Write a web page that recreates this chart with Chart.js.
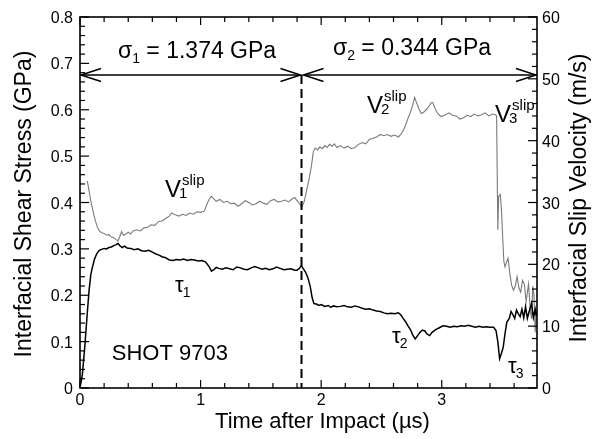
<!DOCTYPE html>
<html>
<head>
<meta charset="utf-8">
<script src="https://cdn.jsdelivr.net/npm/chart.js@4/dist/chart.umd.min.js"></script>
<style>
  html, body { margin: 0; padding: 0; background: #fff; }
  #c { display: block; }
</style>
</head>
<body>
<canvas id="c" width="592" height="439"></canvas>
<script>
// Tick labels
const timeTicks = [0, 1, 2, 3];
const stressTicks = [0, 0.1, 0.2, 0.3, 0.4, 0.5, 0.6, 0.7, 0.8];
const velocityTicks = [0, 10, 20, 30, 40, 50, 60];

// Interfacial shear stress tau (GPa) vs time after impact (µs)
const tauTime = [
  0.00, 0.02, 0.04, 0.06, 0.075, 0.09, 0.10, 0.12, 0.14, 0.16, 0.18, 0.20, 0.22, 0.24, 0.26, 0.28,
  0.30, 0.315, 0.33, 0.35, 0.37, 0.39, 0.42, 0.45, 0.48, 0.51, 0.54, 0.57, 0.60, 0.63, 0.66, 0.68,
  0.71, 0.74, 0.77, 0.80, 0.83, 0.86, 0.89, 0.92, 0.95, 0.98, 1.01, 1.04, 1.07, 1.09, 1.11, 1.13,
  1.15, 1.18, 1.21, 1.24, 1.27, 1.30, 1.33, 1.36, 1.39, 1.42, 1.45, 1.48, 1.51, 1.54, 1.57, 1.60,
  1.63, 1.66, 1.69, 1.72, 1.75, 1.78, 1.80, 1.82, 1.835, 1.85, 1.87, 1.89, 1.91, 1.925, 1.94, 1.96,
  1.98, 2.00, 2.03, 2.06, 2.08, 2.10, 2.13, 2.16, 2.19, 2.22, 2.25, 2.28, 2.31, 2.34, 2.37, 2.40,
  2.43, 2.46, 2.49, 2.52, 2.55, 2.58, 2.61, 2.64, 2.66, 2.68, 2.70, 2.72, 2.74, 2.76, 2.78, 2.80,
  2.82, 2.84, 2.86, 2.88, 2.90, 2.92, 2.95, 2.98, 3.01, 3.04, 3.07, 3.10, 3.13, 3.16, 3.19, 3.22,
  3.25, 3.28, 3.31, 3.34, 3.37, 3.40, 3.43, 3.45, 3.465, 3.48, 3.495, 3.51, 3.525, 3.54, 3.56, 3.575,
  3.59, 3.605, 3.62, 3.635, 3.65, 3.665, 3.68, 3.695, 3.71, 3.725, 3.745, 3.76, 3.775, 3.785
];
const tauStress = [
  0.000, 0.030, 0.090, 0.160, 0.210, 0.245, 0.257, 0.278, 0.290, 0.297, 0.299, 0.301, 0.300, 0.303, 0.304, 0.307,
  0.309, 0.312, 0.307, 0.303, 0.306, 0.302, 0.301, 0.298, 0.300, 0.296, 0.295, 0.297, 0.293, 0.289, 0.286, 0.283,
  0.281, 0.276, 0.275, 0.277, 0.276, 0.278, 0.275, 0.277, 0.276, 0.274, 0.275, 0.272, 0.262, 0.252, 0.255, 0.260,
  0.258, 0.256, 0.259, 0.257, 0.255, 0.261, 0.259, 0.256, 0.255, 0.259, 0.262, 0.259, 0.256, 0.258, 0.255, 0.257,
  0.261, 0.258, 0.255, 0.256, 0.257, 0.254, 0.254, 0.258, 0.264, 0.258, 0.250, 0.238, 0.218, 0.195, 0.182, 0.181,
  0.178, 0.180, 0.176, 0.178, 0.174, 0.177, 0.175, 0.176, 0.178, 0.175, 0.174, 0.177, 0.175, 0.172, 0.170, 0.171,
  0.168, 0.166, 0.165, 0.162, 0.160, 0.161, 0.160, 0.162, 0.158, 0.150, 0.143, 0.134, 0.126, 0.114, 0.106, 0.113,
  0.120, 0.125, 0.123, 0.116, 0.113, 0.120, 0.126, 0.130, 0.134, 0.133, 0.131, 0.133, 0.132, 0.134, 0.133, 0.135,
  0.133, 0.131, 0.133, 0.131, 0.132, 0.131, 0.131, 0.124, 0.100, 0.063, 0.075, 0.088, 0.118, 0.142, 0.150, 0.165,
  0.158, 0.150, 0.168, 0.160, 0.154, 0.170, 0.151, 0.175, 0.150, 0.165, 0.183, 0.152, 0.170, 0.155
];

// Interfacial slip velocity (m/s) vs time after impact (µs)
const slipTime = [
  0.06, 0.07, 0.08, 0.09, 0.10, 0.115, 0.13, 0.145, 0.16, 0.18, 0.20, 0.22, 0.24, 0.26, 0.28, 0.30,
  0.315, 0.33, 0.345, 0.36, 0.38, 0.40, 0.42, 0.44, 0.47, 0.50, 0.53, 0.56, 0.59, 0.62, 0.65, 0.68,
  0.71, 0.74, 0.76, 0.79, 0.82, 0.85, 0.88, 0.91, 0.94, 0.97, 1.00, 1.03, 1.05, 1.07, 1.09, 1.11,
  1.13, 1.16, 1.19, 1.22, 1.25, 1.28, 1.31, 1.34, 1.37, 1.40, 1.43, 1.46, 1.49, 1.52, 1.55, 1.58,
  1.61, 1.64, 1.67, 1.70, 1.73, 1.76, 1.78, 1.80, 1.82, 1.84, 1.86, 1.88, 1.90, 1.92, 1.935, 1.95,
  1.97, 1.99, 2.01, 2.03, 2.05, 2.07, 2.09, 2.11, 2.13, 2.16, 2.19, 2.22, 2.25, 2.28, 2.31, 2.34,
  2.37, 2.40, 2.43, 2.46, 2.49, 2.52, 2.55, 2.58, 2.61, 2.64, 2.66, 2.68, 2.70, 2.72, 2.74, 2.76,
  2.775, 2.79, 2.81, 2.83, 2.85, 2.87, 2.89, 2.91, 2.925, 2.94, 2.96, 2.98, 3.00, 3.03, 3.06, 3.09,
  3.12, 3.15, 3.18, 3.21, 3.24, 3.27, 3.30, 3.33, 3.36, 3.39, 3.42, 3.445, 3.455, 3.465, 3.472, 3.485,
  3.495, 3.505, 3.515, 3.525, 3.54, 3.55, 3.565, 3.58, 3.595, 3.61, 3.625, 3.64, 3.655, 3.67, 3.685, 3.70,
  3.71, 3.72, 3.735, 3.745, 3.755, 3.765, 3.775, 3.785
];
const slipVelocity = [
  33.5, 32.5, 31.3, 30.2, 29.3, 28.0, 26.9, 26.0, 25.4, 25.1, 25.0, 24.7, 24.8, 24.4, 24.3, 24.0,
  23.8, 24.5, 25.3, 24.7, 24.9, 25.2, 24.9, 25.4, 25.6, 25.4, 25.9, 26.0, 26.4, 26.3, 26.9, 27.0,
  27.4, 27.8, 28.3, 28.0, 27.8, 28.1, 27.9, 28.3, 28.1, 28.5, 28.4, 28.6, 29.6, 30.5, 31.0, 30.6,
  30.2, 30.5, 30.0, 30.2, 29.8, 29.9, 29.4, 29.8, 30.3, 30.0, 29.6, 29.8, 30.2, 29.9, 29.7, 30.3,
  30.5, 30.1, 30.2, 30.4, 30.1, 30.6, 30.8, 30.3, 29.8, 29.3, 30.2, 32.0, 33.8, 36.0, 38.2, 38.8,
  38.5, 39.0, 38.7, 39.2, 38.9, 39.4, 39.1, 39.5, 38.9, 39.2, 38.8, 39.1, 38.7, 38.9, 39.4, 39.7,
  39.5, 40.2, 40.4, 40.6, 41.0, 40.8, 41.0, 40.7, 40.9, 40.6, 41.0, 41.6, 42.5, 43.6, 44.6, 45.8,
  47.0, 46.2, 45.2, 44.4, 44.6, 45.0, 45.4, 46.1, 46.2, 45.4, 44.6, 44.1, 43.9, 44.2, 44.5, 44.1,
  44.0, 43.5, 43.7, 44.1, 43.9, 44.3, 44.0, 44.2, 44.5, 44.0, 44.3, 44.2, 44.0, 25.6, 31.0, 31.3,
  29.0, 24.5, 20.5, 19.6, 20.5, 21.0, 18.5, 16.6, 15.8, 16.5, 18.0, 16.2, 15.5, 17.4, 16.8, 14.0,
  15.5, 16.8, 12.5, 11.2, 16.5, 15.0, 9.0, 12.5
];

const FONT = '"Liberation Sans", Arial, Helvetica, sans-serif';
const TIME_MAX = 3.79;
const DIVIDE_T = 1.837;   // change of normal stress
const ARROW_Y = 0.675;    // height of the stress-interval arrows (GPa)

const pairs = (xs, ys) => xs.map((t, i) => ({ x: t, y: ys[i] }));

// Text annotations, positioned in data units (µs, GPa)
const annotations = [
  { kind: 'sigma', sub: '1', rest: ' = 1.374 GPa', t: 0.315, v: 0.712 },
  { kind: 'sigma', sub: '2', rest: ' = 0.344 GPa', t: 2.098, v: 0.718 },
  { kind: 'V', sub: '1', t: 0.705, v: 0.412 },
  { kind: 'V', sub: '2', t: 2.380, v: 0.593 },
  { kind: 'V', sub: '3', t: 3.442, v: 0.574 },
  { kind: 'tau', sub: '1', t: 0.788, v: 0.207 },
  { kind: 'tau', sub: '2', t: 2.587, v: 0.097 },
  { kind: 'tau', sub: '3', t: 3.550, v: 0.032 },
  { kind: 'plain', text: 'SHOT 9703', t: 0.263, v: 0.060 }
];

const decor = {
  id: 'decor',
  afterDraw(chart) {
    const { ctx, chartArea: a, scales } = chart;
    const x = scales.x, y = scales.y, y2 = scales.y2;
    ctx.save();
    ctx.strokeStyle = '#000';
    ctx.fillStyle = '#000';

    // frame
    ctx.lineWidth = 1.6;
    ctx.strokeRect(a.left, a.top, a.right - a.left, a.bottom - a.top);

    // inward tick marks on all four sides
    ctx.lineWidth = 1.2;
    const seg = (x0, y0, x1, y1) => { ctx.beginPath(); ctx.moveTo(x0, y0); ctx.lineTo(x1, y1); ctx.stroke(); };
    for (let i = 0; i * 0.2 <= TIME_MAX + 1e-9; i++) {
      const px = x.getPixelForValue(i * 0.2);
      const L = i % 5 === 0 ? 8 : 5;
      seg(px, a.bottom, px, a.bottom - L);
      seg(px, a.top, px, a.top + L);
    }
    for (let i = 0; i <= 40; i++) {
      const py = y.getPixelForValue(i * 0.02);
      const L = i % 5 === 0 ? 9 : 5;
      seg(a.left, py, a.left + L, py);
    }
    for (let i = 0; i <= 30; i++) {
      const py = y2.getPixelForValue(i * 2);
      const L = i % 5 === 0 ? 9 : 5;
      seg(a.right, py, a.right - L, py);
    }

    // tick labels
    ctx.font = '16px ' + FONT;
    ctx.textBaseline = 'alphabetic';
    ctx.textAlign = 'center';
    timeTicks.forEach(v => ctx.fillText(String(v), x.getPixelForValue(v), a.bottom + 17));
    ctx.textAlign = 'right';
    stressTicks.forEach(v => ctx.fillText(v === 0 ? '0' : v.toFixed(1), a.left - 7, y.getPixelForValue(v) + 6));
    ctx.textAlign = 'left';
    velocityTicks.forEach(v => ctx.fillText(String(v), a.right + 5, y2.getPixelForValue(v) + 6));

    // double-headed arrows marking the two normal-stress intervals
    const ay = y.getPixelForValue(ARROW_Y);
    const xd = x.getPixelForValue(DIVIDE_T);
    const arrow = (x0, x1) => {
      ctx.lineWidth = 1.5;
      seg(x0, ay, x1, ay);
      ctx.beginPath();
      ctx.moveTo(x0 + 20, ay - 6.5); ctx.lineTo(x0, ay); ctx.lineTo(x0 + 20, ay + 6.5);
      ctx.moveTo(x1 - 20, ay - 6.5); ctx.lineTo(x1, ay); ctx.lineTo(x1 - 20, ay + 6.5);
      ctx.stroke();
    };
    arrow(a.left + 1, xd - 1);
    arrow(xd + 2, a.right - 1);

    // dashed divider
    ctx.lineWidth = 2;
    ctx.setLineDash([9, 5]);
    seg(xd, ay, xd, a.bottom);
    ctx.setLineDash([]);

    // annotations
    ctx.textBaseline = 'alphabetic';
    ctx.textAlign = 'left';
    annotations.forEach(n => {
      const px = x.getPixelForValue(n.t);
      const py = y.getPixelForValue(n.v);
      if (n.kind === 'sigma') {
        ctx.font = '23px ' + FONT;
        ctx.fillText('σ', px, py);
        let w = ctx.measureText('σ').width;
        ctx.font = '14px ' + FONT;
        ctx.fillText(n.sub, px + w, py + 5);
        w += ctx.measureText(n.sub).width;
        ctx.font = '23px ' + FONT;
        ctx.fillText(n.rest, px + w, py);
      } else if (n.kind === 'V') {
        ctx.font = '24px ' + FONT;
        ctx.fillText('V', px, py);
        const w = ctx.measureText('V').width;
        ctx.font = '15px ' + FONT;
        ctx.fillText('slip', px + w + 1, py - 12);
        ctx.fillText(n.sub, px + w - 2, py + 1);
      } else if (n.kind === 'tau') {
        ctx.font = '22px ' + FONT;
        ctx.fillText('τ', px, py);
        const w = ctx.measureText('τ').width;
        ctx.font = '14px ' + FONT;
        ctx.fillText(n.sub, px + w - 1, py + 5);
      } else {
        ctx.font = '22px ' + FONT;
        ctx.fillText(n.text, px, py);
      }
    });

    // axis titles
    ctx.font = '22px ' + FONT;
    ctx.textAlign = 'center';
    ctx.textBaseline = 'alphabetic';
    ctx.fillText('Time after Impact (µs)', 322.5, 428);

    ctx.textBaseline = 'middle';
    ctx.font = '23px ' + FONT;
    ctx.save();
    ctx.translate(25, 204);
    ctx.rotate(-Math.PI / 2);
    ctx.fillText('Interfacial Shear Stress (GPa)', 0, 0);
    ctx.restore();

    ctx.save();
    ctx.translate(580, 198);
    ctx.rotate(-Math.PI / 2);
    ctx.fillText('Interfacial Slip Velocity (m/s)', 0, 0);
    ctx.restore();

    ctx.restore();
  }
};

const hiddenTicks = list => ({
  afterBuildTicks: scale => { scale.ticks = list.map(v => ({ value: v })); },
  ticks: { display: false },
  grid: { display: false },
  border: { display: false }
});

new Chart(document.getElementById('c'), {
  type: 'scatter',
  data: {
    datasets: [
      {
        label: 'tau',
        data: pairs(tauTime, tauStress),
        yAxisID: 'y',
        showLine: true,
        borderColor: '#000',
        borderWidth: 1.5,
        pointRadius: 0,
        tension: 0
      },
      {
        label: 'Vslip',
        data: pairs(slipTime, slipVelocity),
        yAxisID: 'y2',
        showLine: true,
        borderColor: '#7a7a7a',
        borderWidth: 1.1,
        pointRadius: 0,
        tension: 0
      }
    ]
  },
  options: {
    responsive: false,
    animation: false,
    devicePixelRatio: 1,
    layout: { padding: { top: 17, left: 0, right: 0, bottom: 0 } },
    plugins: { legend: { display: false }, tooltip: { enabled: false } },
    scales: {
      x: Object.assign({ type: 'linear', position: 'bottom', min: 0, max: TIME_MAX,
                         afterFit: s => { s.height = 51; } }, hiddenTicks(timeTicks)),
      y: Object.assign({ type: 'linear', position: 'left', min: 0, max: 0.8,
                         afterFit: s => { s.width = 80; } }, hiddenTicks(stressTicks)),
      y2: Object.assign({ type: 'linear', position: 'right', min: 0, max: 60,
                          afterFit: s => { s.width = 55; } }, hiddenTicks(velocityTicks))
    }
  },
  plugins: [decor]
});
</script>
</body>
</html>
